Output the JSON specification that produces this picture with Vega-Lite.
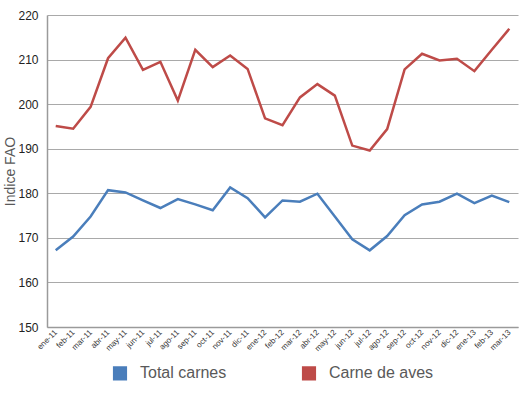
{
  "$schema": "https://vega.github.io/schema/vega-lite/v6.json",
  "autosize": "none",
  "width": 471,
  "height": 312,
  "padding": {"left": 47, "top": 15, "right": 7, "bottom": 69},
  "background": "white",
  "config": {"view": {"stroke": null}, "font": "Liberation Sans"},
  "data": {"values": [
    {"mes": "ene-11", "serie": "Total carnes", "valor": 167.2},
    {"mes": "feb-11", "serie": "Total carnes", "valor": 170.3},
    {"mes": "mar-11", "serie": "Total carnes", "valor": 174.8},
    {"mes": "abr-11", "serie": "Total carnes", "valor": 180.7},
    {"mes": "may-11", "serie": "Total carnes", "valor": 180.2},
    {"mes": "jun-11", "serie": "Total carnes", "valor": 178.4},
    {"mes": "jul-11", "serie": "Total carnes", "valor": 176.7},
    {"mes": "ago-11", "serie": "Total carnes", "valor": 178.7},
    {"mes": "sep-11", "serie": "Total carnes", "valor": 177.5},
    {"mes": "oct-11", "serie": "Total carnes", "valor": 176.2},
    {"mes": "nov-11", "serie": "Total carnes", "valor": 181.3},
    {"mes": "dic-11", "serie": "Total carnes", "valor": 178.9},
    {"mes": "ene-12", "serie": "Total carnes", "valor": 174.6},
    {"mes": "feb-12", "serie": "Total carnes", "valor": 178.4},
    {"mes": "mar-12", "serie": "Total carnes", "valor": 178.1},
    {"mes": "abr-12", "serie": "Total carnes", "valor": 179.9},
    {"mes": "may-12", "serie": "Total carnes", "valor": 174.8},
    {"mes": "jun-12", "serie": "Total carnes", "valor": 169.7},
    {"mes": "jul-12", "serie": "Total carnes", "valor": 167.2},
    {"mes": "ago-12", "serie": "Total carnes", "valor": 170.4},
    {"mes": "sep-12", "serie": "Total carnes", "valor": 175.1},
    {"mes": "oct-12", "serie": "Total carnes", "valor": 177.5},
    {"mes": "nov-12", "serie": "Total carnes", "valor": 178.1},
    {"mes": "dic-12", "serie": "Total carnes", "valor": 179.9},
    {"mes": "ene-13", "serie": "Total carnes", "valor": 177.8},
    {"mes": "feb-13", "serie": "Total carnes", "valor": 179.5},
    {"mes": "mar-13", "serie": "Total carnes", "valor": 178.0},
    {"mes": "ene-11", "serie": "Carne de aves", "valor": 195.1},
    {"mes": "feb-11", "serie": "Carne de aves", "valor": 194.5},
    {"mes": "mar-11", "serie": "Carne de aves", "valor": 199.4},
    {"mes": "abr-11", "serie": "Carne de aves", "valor": 210.3},
    {"mes": "may-11", "serie": "Carne de aves", "valor": 214.9},
    {"mes": "jun-11", "serie": "Carne de aves", "valor": 207.7},
    {"mes": "jul-11", "serie": "Carne de aves", "valor": 209.5},
    {"mes": "ago-11", "serie": "Carne de aves", "valor": 200.8},
    {"mes": "sep-11", "serie": "Carne de aves", "valor": 212.2},
    {"mes": "oct-11", "serie": "Carne de aves", "valor": 208.3},
    {"mes": "nov-11", "serie": "Carne de aves", "valor": 210.9},
    {"mes": "dic-11", "serie": "Carne de aves", "valor": 207.9},
    {"mes": "ene-12", "serie": "Carne de aves", "valor": 196.8},
    {"mes": "feb-12", "serie": "Carne de aves", "valor": 195.3},
    {"mes": "mar-12", "serie": "Carne de aves", "valor": 201.5},
    {"mes": "abr-12", "serie": "Carne de aves", "valor": 204.5},
    {"mes": "may-12", "serie": "Carne de aves", "valor": 201.9},
    {"mes": "jun-12", "serie": "Carne de aves", "valor": 190.7},
    {"mes": "jul-12", "serie": "Carne de aves", "valor": 189.6},
    {"mes": "ago-12", "serie": "Carne de aves", "valor": 194.4},
    {"mes": "sep-12", "serie": "Carne de aves", "valor": 207.8},
    {"mes": "oct-12", "serie": "Carne de aves", "valor": 211.3},
    {"mes": "nov-12", "serie": "Carne de aves", "valor": 209.8},
    {"mes": "dic-12", "serie": "Carne de aves", "valor": 210.2},
    {"mes": "ene-13", "serie": "Carne de aves", "valor": 207.4},
    {"mes": "feb-13", "serie": "Carne de aves", "valor": 212.2},
    {"mes": "mar-13", "serie": "Carne de aves", "valor": 216.9}
  ]},
  "mark": {"type": "line", "strokeWidth": 2.5, "strokeJoin": "miter"},
  "encoding": {
    "x": {
      "field": "mes", "type": "nominal", "sort": null,
      "scale": {"type": "point", "padding": 0.5},
      "axis": {
        "title": null, "labelAngle": -45, "labelAlign": "right", "labelBaseline": "middle",
        "labelFontSize": 8, "labelColor": "#333333", "ticks": false, "labelPadding": 4,
        "domainColor": "#9a9a9a", "domainWidth": 1.5, "grid": false
      }
    },
    "y": {
      "field": "valor", "type": "quantitative",
      "scale": {"domain": [150, 220], "nice": false, "zero": false},
      "axis": {
        "title": "Indice FAO", "titleFontSize": 14, "titleFontWeight": "normal", "titleColor": "#595959",
        "titlePadding": 0,
        "values": [150, 160, 170, 180, 190, 200, 210, 220],
        "labelFontSize": 12, "labelColor": "#222222", "ticks": false, "labelPadding": 9,
        "domainColor": "#9a9a9a", "domainWidth": 1.5,
        "grid": true, "gridColor": "#a9a9a9", "gridWidth": 1
      }
    },
    "color": {
      "field": "serie", "type": "nominal",
      "scale": {"domain": ["Total carnes", "Carne de aves"], "range": ["#4a7ebb", "#be4b48"]},
      "legend": {
        "title": null, "orient": "none", "direction": "horizontal",
        "legendX": 65, "legendY": 350,
        "symbolType": "square", "symbolSize": 160,
        "labelFontSize": 16, "labelColor": "#595959", "labelOffset": 12,
        "columnPadding": 72,
        "encode": {
          "symbols": {
            "update": {
              "fill": {"scale": "color", "field": "value"},
              "stroke": {"value": "transparent"},
              "shape": {"value": "square"},
              "size": {"value": 160}
            }
          }
        }
      }
    }
  }
}
